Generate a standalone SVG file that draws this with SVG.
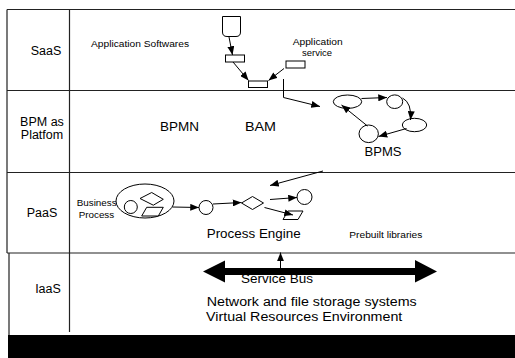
<svg xmlns="http://www.w3.org/2000/svg" width="515" height="358" viewBox="0 0 515 358">
<defs>
<marker id="ah" viewBox="0 0 10 8" refX="10" refY="4" markerWidth="9" markerHeight="7" markerUnits="userSpaceOnUse" orient="auto"><path d="M0,0 L10,4 L0,8 Z" fill="#000"/></marker>
<style>
.frame{stroke:#222;stroke-width:1.2;fill:none}
.sh{stroke:#000;stroke-width:1;fill:#fff}
.ar{stroke:#000;stroke-width:1;fill:none;marker-end:url(#ah)}
text{font-family:"Liberation Sans",Arial,sans-serif;fill:#000}
.lab{font-size:12.5px}
.sm{font-size:8.5px}
</style>
</defs>
<rect width="515" height="358" fill="#fff"/>
<g id="frame">
<path class="frame" d="M7,9.5 H515 M7,90.5 H515 M7,172.5 H515 M7,253 H515 M7,9.5 V253 M9,253 V335 M69.5,9.5 V332"/>
<rect x="8" y="335" width="507" height="23" fill="#000"/>
</g>
<g id="layer-labels">
<text class="lab" x="46" y="55" text-anchor="middle">SaaS</text>
<text class="lab" x="42" y="126" text-anchor="middle">BPM as</text>
<text class="lab" x="42" y="139" text-anchor="middle">Platfom</text>
<text class="lab" x="42" y="217" text-anchor="middle">PaaS</text>
<text class="lab" x="48" y="293" text-anchor="middle">IaaS</text>
</g>
<g id="saas">
<text class="sm" x="91" y="46.5" textLength="98" lengthAdjust="spacingAndGlyphs">Application Softwares</text>
<text x="292.7" y="45" font-size="9.3" textLength="50" lengthAdjust="spacingAndGlyphs">Application</text>
<text x="302" y="56" font-size="9.3" textLength="30" lengthAdjust="spacingAndGlyphs">service</text>
<path class="sh" d="M222.5,16.5 H240.5 V32 Q240.5,36.5 236,36.5 H227 Q222.5,36.5 222.5,32 Z"/>
<rect class="sh" x="225.5" y="55" width="19" height="7"/>
<rect class="sh" x="248.5" y="81" width="19" height="6.5"/>
<rect class="sh" x="286" y="61" width="19" height="7"/>
</g>
<g id="bpm">
<text class="lab" x="160" y="131" textLength="39" lengthAdjust="spacingAndGlyphs">BPMN</text>
<text class="lab" x="245" y="131" textLength="31" lengthAdjust="spacingAndGlyphs">BAM</text>
<text class="lab" x="364.5" y="156" textLength="37" lengthAdjust="spacingAndGlyphs">BPMS</text>
<ellipse class="sh" cx="347.5" cy="101.7" rx="14.2" ry="6.7"/>
<ellipse class="sh" cx="394.7" cy="101.7" rx="8" ry="6.8"/>
<ellipse class="sh" cx="414.5" cy="125" rx="12.2" ry="6.7"/>
<ellipse class="sh" cx="368.7" cy="133.8" rx="9.7" ry="8.8"/>
</g>
<g id="paas">
<text x="76.7" y="206" font-size="9.5" textLength="40" lengthAdjust="spacingAndGlyphs">Business</text>
<text x="78.7" y="217.5" font-size="9.5" textLength="35.5" lengthAdjust="spacingAndGlyphs">Process</text>
<ellipse class="sh" cx="145" cy="201" rx="29" ry="17"/>
<circle class="sh" cx="130.8" cy="207" r="6.5"/>
<path class="sh" d="M140,198.5 L151.7,192.5 L163.3,199.3 L153.3,205.2 Z"/>
<path class="sh" d="M141.7,216 L146.7,207.3 L163.3,207.3 L158.3,216 Z"/>
<circle class="sh" cx="206" cy="207.5" r="7"/>
<path class="sh" d="M241.5,203 L252.5,196.5 L263.5,203 L252.5,209.5 Z"/>
<circle class="sh" cx="304.5" cy="197" r="7.5"/>
<path class="sh" d="M283,219.5 L288,211 L303,211 L298,219.5 Z"/>
<text x="206.7" y="237.5" font-size="12.5" textLength="94" lengthAdjust="spacingAndGlyphs">Process Engine</text>
<text x="349.3" y="237.5" font-size="8.5" textLength="73" lengthAdjust="spacingAndGlyphs">Prebuilt libraries</text>
</g>
<g id="iaas">
<path d="M225,268 H415 V260 L437,271.5 L415,282.5 V275 H225 V282.5 L203,271.5 L225,260.5 Z" fill="#000"/>
<text x="241" y="283" font-size="12.5" textLength="72" lengthAdjust="spacingAndGlyphs">Service Bus</text>
<text x="206.7" y="306" font-size="12.5" textLength="210" lengthAdjust="spacingAndGlyphs">Network and file storage systems</text>
<text x="206" y="321" font-size="12.5" textLength="196.3" lengthAdjust="spacingAndGlyphs">Virtual Resources Environment</text>
</g>
<g id="connectors">
<path class="ar" d="M229,37 L232.5,55"/>
<path class="ar" d="M233,62 L248.5,80.5"/>
<path class="ar" d="M284,68.5 L268.5,80.5"/>
<path class="ar" d="M283.5,79 V97.5 L320,106.5"/>
<path class="ar" d="M361.5,98.5 L387,97.5"/>
<path class="ar" d="M402.5,98 Q412,103 410.5,120"/>
<path class="ar" d="M406.5,128.5 L378.5,136.5"/>
<path class="ar" d="M367.5,126 L341.5,105"/>
<path class="ar" d="M323,171 L270,185.5"/>
<path class="ar" d="M172.5,207 L199,207.5"/>
<path class="ar" d="M213,204 L241.5,202.5"/>
<path class="ar" d="M270,199.5 L297,197.5"/>
<path class="ar" d="M264.5,207.5 L293,215"/>
<path class="ar" d="M280.5,268 V252.5"/>
</g>
</svg>
